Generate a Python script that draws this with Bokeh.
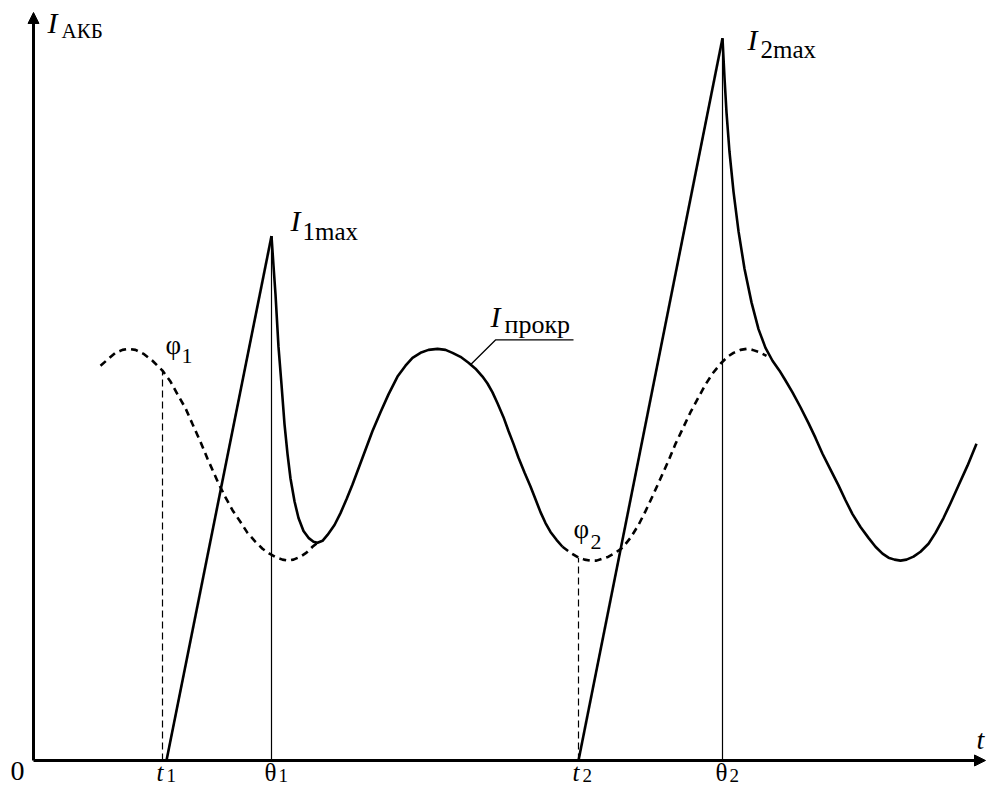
from bokeh.plotting import figure
from bokeh.models import Range1d, Arrow, NormalHead
from bokeh.core.properties import value
from bokeh.embed import file_html
from bokeh.resources import INLINE

# ---------------- data ----------------
# event times on the t axis
t_start = [166, 578]          # t1, t2 : start of the current ramps
theta = [271, 722]            # θ1, θ2 : moments of the current maxima
I_max = [530, 730]            # I1max, I2max
phi_x = [162, 578]            # φ1, φ2 on the cranking-current curve
phi_y = [394, 205]

# cranking current I_прокр, dashed parts
dash1_x = [100, 108, 115, 122, 128, 135, 143, 152, 162, 170, 177, 185, 192, 200, 207, 218, 225, 232, 240,
           247, 255, 262, 269, 276, 282, 287, 293, 300, 306, 312, 318]
dash1_y = [399, 406, 412, 415, 416, 415, 411, 404, 394, 383, 370, 356, 340, 322, 305, 280, 266, 253, 241,
           230, 221, 214, 209, 205, 203, 202, 203, 206, 210, 216, 221]

dash2_x = [562, 570, 578, 584, 590, 596, 602, 608, 615, 622, 630, 638, 645, 652, 660, 668, 675, 683, 690,
           698, 705, 712, 720, 727, 733, 740, 746, 752, 758, 766]
dash2_y = [216, 210, 205, 203, 202, 202, 204, 206, 210, 215, 225, 238, 252, 267, 285, 303, 320, 337, 352,
           367, 380, 391, 401, 408, 412, 415, 416, 415, 413, 409]

# solid: decay after θ1, then the cranking wave
solid1_x = [271, 273, 275, 278, 281, 284, 287, 290, 294, 298, 303, 308, 313, 317, 322, 327, 334, 340, 346,
            352, 362, 372, 380, 388, 397, 405, 412, 420, 428, 437, 445, 452, 460, 468, 475, 482, 487, 492,
            497, 503, 508, 513, 518, 524, 530, 535, 540, 545, 550, 556, 562]
solid1_y = [530, 500, 471, 418, 380, 340, 310, 285, 262, 245, 232, 225, 221, 220, 222, 228, 238, 250, 264,
            279, 306, 333, 352, 370, 388, 399, 407, 412, 415, 416, 415, 412, 408, 402, 396, 388, 381, 372,
            361, 347, 333, 320, 306, 291, 277, 264, 251, 240, 231, 223, 216]

# solid: decay after θ2, then the cranking wave
solid2_x = [722, 724, 726, 729, 733, 738, 744, 751, 758, 765, 772, 779, 785, 792, 800, 808, 815, 822, 830,
            838, 845, 852, 860, 868, 875, 882, 888, 894, 900, 906, 913, 920, 928, 935, 943, 950, 958, 967, 976]
solid2_y = [730, 690, 655, 615, 575, 535, 497, 463, 436, 417, 404, 394, 384, 372, 357, 341, 326, 310, 294,
            278, 263, 249, 236, 225, 216, 209, 205, 203, 202, 203, 206, 211, 219, 230, 245, 260, 278, 298, 320]

x0 = 33            # position of the vertical axis
x_axis_end = 985
y_axis_end = 756

FONT = value("Liberation Serif")
K_MID = 0.348      # distance (em) from the alphabetic baseline up to the text middle

p = figure(width=987, height=786, output_backend="svg", toolbar_location=None,
           x_range=Range1d(0, 987), y_range=Range1d(-26.3, 768.1),
           x_axis_location=None, y_axis_location=None, min_border=0)
p.xgrid.visible = False
p.ygrid.visible = False
p.outline_line_color = None
p.background_fill_color = "white"
p.border_fill_color = "white"

# axes with arrows
p.add_layout(Arrow(end=NormalHead(size=11, fill_color="black", line_color="black"),
                   x_start=x0, y_start=0, x_end=x0, y_end=y_axis_end, line_width=3))
p.add_layout(Arrow(end=NormalHead(size=11, fill_color="black", line_color="black"),
                   x_start=x0, y_start=0, x_end=x_axis_end, y_end=0, line_width=3))

# thin verticals at θ
p.segment(x0=theta, y0=[0, 0], x1=theta, y1=I_max, line_color="black", line_width=1.2)
# dashed verticals at φ
p.segment(x0=phi_x, y0=[0, 0], x1=phi_x, y1=phi_y, line_color="black", line_width=1.2, line_dash="7 4")

# ramps
p.segment(x0=t_start, y0=[0, 0], x1=theta, y1=I_max, line_color="black", line_width=2.6)

# cranking-current curves
p.line(dash1_x, dash1_y, line_color="black", line_width=2.6, line_dash="7 5")
p.line(dash2_x, dash2_y, line_color="black", line_width=2.6, line_dash="7 5")
p.line(solid1_x, solid1_y, line_color="black", line_width=2.6, line_join="round")
p.line(solid2_x, solid2_y, line_color="black", line_width=2.6, line_join="round")

# leader for I_прокр
p.line([470, 495, 573], [400, 425, 425], line_color="black", line_width=1.3)


def txt(x, base, s, size, italic=False, align="left"):
    # base = wanted alphabetic baseline; drawn with a middle baseline
    p.text(x=[x], y=[base + K_MID * size], text=[s], text_font=FONT, text_font_size=f"{size}px",
           text_font_style="italic" if italic else "normal",
           text_align=align, text_baseline="middle", text_color="black")


# axis titles
txt(47, 735, "I", 30, italic=True)
txt(61, 730, "АКБ", 21)
txt(17, -20.1, "0", 28, align="center")
txt(980, 11, "t", 28, italic=True, align="center")

# t and θ labels
for i, (px, th) in enumerate(zip(phi_x, theta)):
    n = str(i + 1)
    txt(px - 6, -20.9, "t", 25, italic=True)
    txt(px + 4, -22.1, n, 19)
    txt(th - 7, -20.9, "θ", 25)
    txt(th + 7, -22.1, n, 19)

# maxima labels
txt(theta[0] + 19, I_max[0] + 5, "I", 30, italic=True)
txt(theta[0] + 31, I_max[0] - 4, "1max", 25)
txt(theta[1] + 25, I_max[1] - 12, "I", 30, italic=True)
txt(theta[1] + 38, I_max[1] - 20, "2max", 25)

# φ labels
txt(phi_x[0] + 3, phi_y[0] + 17, "φ", 27)
txt(phi_x[0] + 19, phi_y[0] + 7, "1", 22)
txt(phi_x[1] - 5, phi_y[1] + 20, "φ", 27)
txt(phi_x[1] + 12, phi_y[1] + 8, "2", 22)

# I_прокр label
txt(490, 438, "I", 30, italic=True)
txt(504, 432, "прокр", 26)

open("out.html", "w").write(file_html(p, INLINE))
